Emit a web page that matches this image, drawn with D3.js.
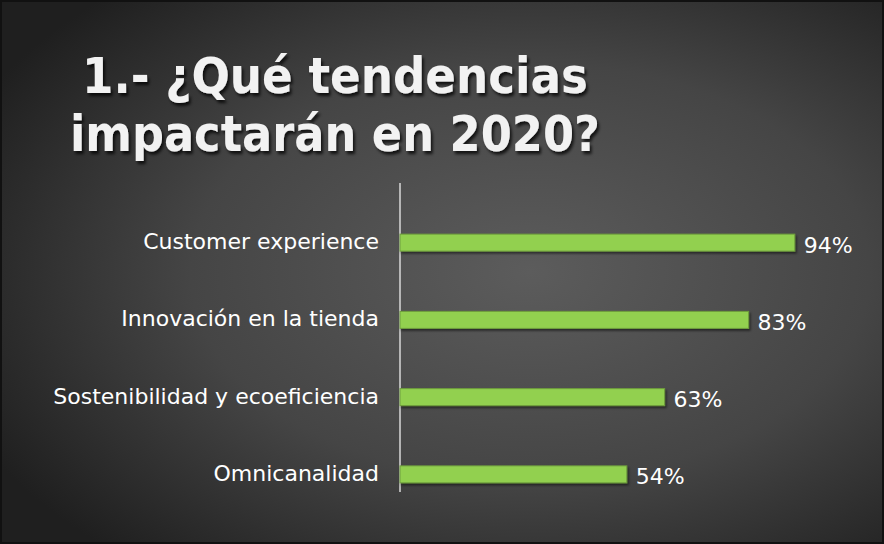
<!DOCTYPE html>
<html>
<head>
<meta charset="utf-8">
<script src="https://cdn.jsdelivr.net/npm/d3@7"></script>
<style>
  body { margin: 0; background: #1a1a1a; }
  svg { display: block; }
</style>
</head>
<body>
<div id="chart"></div>
<script>
// Data
var categories = ["Customer experience", "Innovación en la tienda", "Sostenibilidad y ecoeficiencia", "Omnicanalidad"];
var values = [94, 83, 63, 54];
var titleLines = ["1.- ¿Qué tendencias", "impactarán en 2020?"];

var svgWidth = 884;
var svgHeight = 544;

var margin = { top: 183, right: 64, bottom: 52, left: 400 };
var width = svgWidth - margin.left - margin.right;
var height = svgHeight - margin.top - margin.bottom;

var svg = d3.select("#chart")
  .append("svg")
  .attr("width", svgWidth)
  .attr("height", svgHeight);

var defs = svg.append("defs");

// background gradient
var grad = defs.append("radialGradient")
  .attr("id", "bg")
  .attr("cx", "60%")
  .attr("cy", "50%")
  .attr("r", "70%");
grad.append("stop").attr("offset", "0%").attr("stop-color", "#5c5c5c");
grad.append("stop").attr("offset", "55%").attr("stop-color", "#454545");
grad.append("stop").attr("offset", "100%").attr("stop-color", "#1f1f1f");

var shadow = defs.append("filter").attr("id", "tshadow")
  .attr("x", "-10%").attr("y", "-20%").attr("width", "130%").attr("height", "150%");
shadow.append("feDropShadow")
  .attr("dx", 2).attr("dy", 3).attr("stdDeviation", 1.5)
  .attr("flood-color", "#000").attr("flood-opacity", 0.75);

var barShadow = defs.append("filter").attr("id", "bshadow")
  .attr("x", "-5%").attr("y", "-30%").attr("width", "110%").attr("height", "180%");
barShadow.append("feDropShadow")
  .attr("dx", 1.5).attr("dy", 2).attr("stdDeviation", 1)
  .attr("flood-color", "#000").attr("flood-opacity", 0.5);

svg.append("rect")
  .attr("x", 1).attr("y", 1)
  .attr("width", svgWidth - 2).attr("height", svgHeight - 2)
  .attr("fill", "url(#bg)")
  .attr("stroke", "#111")
  .attr("stroke-width", 2);

// Title
svg.append("g")
  .selectAll("text")
  .data(titleLines)
  .enter()
  .append("text")
  .attr("x", 335)
  .attr("y", (d, i) => 93 + i * 58)
  .attr("text-anchor", "middle")
  .attr("textLength", (d, i) => i === 0 ? 506 : 530)
  .attr("lengthAdjust", "spacingAndGlyphs")
  .style("font-family", "'DejaVu Sans', sans-serif")
  .style("font-weight", "bold")
  .style("font-size", "50px")
  .style("fill", "#f2f2f2")
  .attr("filter", "url(#tshadow)")
  .text(d => d);

var chartGroup = svg.append("g")
  .attr("transform", `translate(${margin.left}, ${margin.top})`);

// Scales
var xScale = d3.scaleLinear()
  .domain([0, 100])
  .range([0, 420]);

// bars sit a bit lower than the axis line's own span
var yScale = d3.scaleBand()
  .domain(categories)
  .range([21, height + 21])
  .paddingInner(0.78)
  .paddingOuter(0.39);

// Axis line
chartGroup.append("line")
  .attr("x1", 0).attr("x2", 0)
  .attr("y1", 0).attr("y2", height)
  .attr("stroke", "#d9d9d9")
  .attr("stroke-width", 1.5);

// Bars
chartGroup.selectAll(".bar")
  .data(values)
  .enter()
  .append("rect")
  .attr("class", "bar")
  .attr("x", 0)
  .attr("y", (d, i) => yScale(categories[i]))
  .attr("width", d => xScale(d))
  .attr("height", yScale.bandwidth())
  .attr("fill", "#92d050")
  .attr("stroke", "#6f9e3c")
  .attr("stroke-width", 1)
  .attr("filter", "url(#bshadow)");

// Value labels
chartGroup.selectAll(".val")
  .data(values)
  .enter()
  .append("text")
  .attr("class", "val")
  .attr("x", d => xScale(d) + 9)
  .attr("y", (d, i) => yScale(categories[i]) + yScale.bandwidth() / 2 + 10)
  .style("font-family", "'DejaVu Sans', sans-serif")
  .style("font-size", "22px")
  .style("fill", "#ffffff")
  .text(d => d + "%");

// Category labels
var leftAxis = d3.axisLeft(yScale).tickSize(0).tickPadding(21);
var axisG = chartGroup.append("g").call(leftAxis);
axisG.select(".domain").remove();
axisG.selectAll("text")
  .attr("dy", "0.3em")
  .style("font-family", "'DejaVu Sans', sans-serif")
  .style("font-size", "22px")
  .style("fill", "#ffffff");
</script>
</body>
</html>
